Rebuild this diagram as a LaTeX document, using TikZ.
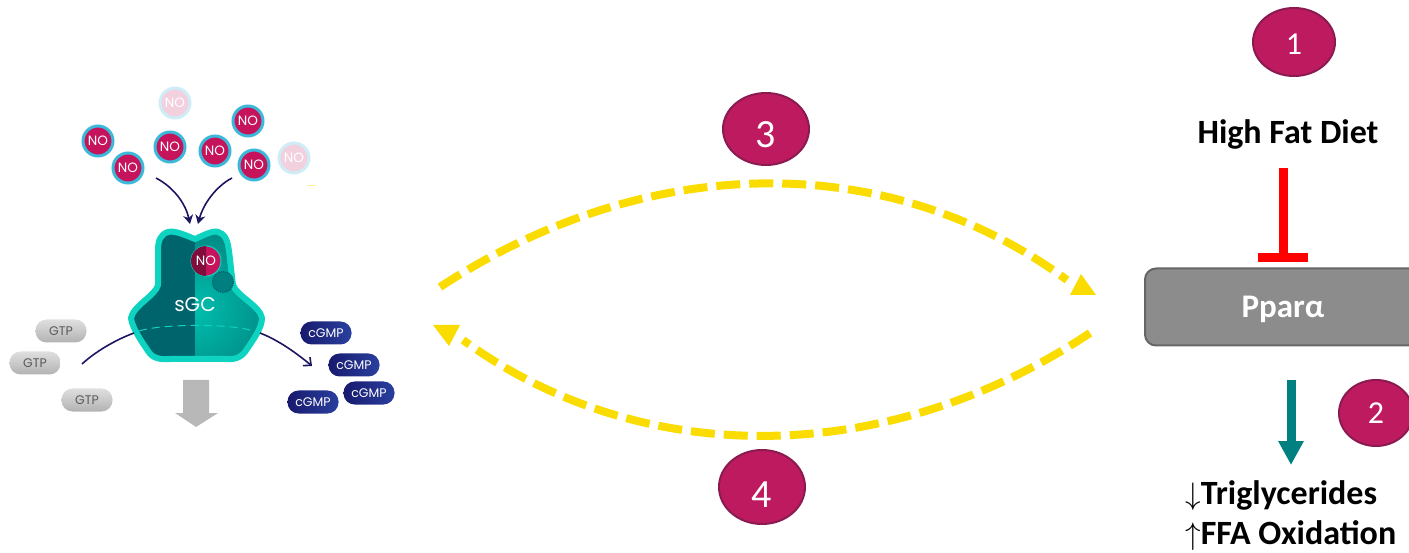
\documentclass[tikz,border=0pt]{standalone}
\usepackage{fontspec}
\setmainfont{Carlito}
\newfontfamily\labelfont{Poppins}
\usetikzlibrary{arrows.meta,shapes.geometric,shadings}
\definecolor{plum}{HTML}{BE1A5F}
\definecolor{plumedge}{HTML}{8A1A50}
\definecolor{nored}{HTML}{C5145C}
\definecolor{noring}{HTML}{3CB8DA}
\definecolor{navyline}{HTML}{1C1560}
\definecolor{sgcdark}{HTML}{00646C}
\definecolor{sgcmid}{HTML}{007F7C}
\definecolor{sgclight}{HTML}{00BFAE}
\definecolor{sgcedge}{HTML}{0ED3C1}
\definecolor{dashyellow}{HTML}{FADC00}
\definecolor{cgmpdark}{HTML}{181A6E}
\definecolor{cgmplight}{HTML}{2A409E}
\newcommand{\lowered}[2]{\raisebox{-#1pt}[0pt][0pt]{#2}}
\tikzset{
  stepoval/.style={ellipse,draw=plumedge,line width=2pt,fill=plum,text=white,inner sep=0pt,
    minimum width=82pt,minimum height=68pt},
  noball/.style={circle,draw=noring,line width=3pt,fill=nored,text=white,inner sep=0pt,
    minimum size=30pt,font=\labelfont\fontsize{13.5}{13.5}\selectfont},
  nofade/.style={noball,draw=noring!25,fill=nored!20},
  pill/.style={rounded corners=11pt,inner sep=0pt,minimum width=51pt,minimum height=23pt,
    font=\labelfont\fontsize{12.5}{12.5}\selectfont},
  gtppill/.style={pill,top color=gray!25,bottom color=gray!60,text=black!65},
  cgmppill/.style={pill,left color=cgmpdark,right color=cgmplight,text=white},
  navyarrow/.style={navyline,line width=1.6pt,-{Stealth[length=9pt,width=10pt]}},
  navyopen/.style={navyline,line width=1.6pt,-{Straight Barb[length=6pt,width=11pt]}},
  yellowdash/.style={dashyellow,line width=8pt,dash pattern=on 24pt off 9pt},
  boldtext/.style={font=\fontsize{34}{34}\selectfont\bfseries,text=black,inner sep=0pt},
  digits/.style={font=\fontsize{#1}{#1}\selectfont},
}
\begin{document}
\begin{tikzpicture}[x=1pt,y=-1pt]
  \useasboundingbox (0,0) rectangle (1409,553);
  \clip (0,0) rectangle (1409,553);
  % NO molecules above the enzyme
  \foreach \x/\y in {98/141,128/168,170/147,215/151,248/121,254/165}
    \node[noball] at (\x,\y) {NO};
  \foreach \x/\y in {175/103,294/158}
    \node[nofade] at (\x,\y) {NO};
  \draw[dashyellow!40,line width=0.7pt] (307,185.5) -- (316,185.5);
  % sGC body, two halves and outline
  \def\sgcpath{(195,239) .. controls (187,236) and (175,230) .. (168,232)
    .. controls (161,234) and (158,240) .. (158,250) -- (158,285)
    .. controls (156,295) and (133,306) .. (131,318)
    .. controls (132,328) and (142,342) .. (148,351)
    .. controls (152,358) and (160,360) .. (170,359)
    -- (225,359) .. controls (236,360) and (242,357) .. (247,349)
    .. controls (253,340) and (262,328) .. (262,318)
    .. controls (260,306) and (237,296) .. (233,285)
    .. controls (231,270) and (230,256) .. (228,245)
    .. controls (226,235) and (220,230) .. (212,232)
    .. controls (205,234) and (200,237) .. (195,239) -- cycle}
  \begin{scope}
    \clip \sgcpath;
    \fill[sgcdark] (120,220) rectangle (195,370);
    \clip (195,220) rectangle (280,370);
    \shade[inner color=sgclight,outer color=sgcmid] (100,215) rectangle (290,405);
  \end{scope}
  \draw[sgcedge,line width=6pt,line join=round] \sgcpath;
  \draw[sgcedge,line width=1pt,dashed,dash pattern=on 8pt off 5pt]
    (139,331) .. controls (160,324) and (230,323) .. (253,331);
  \node[text=white,font=\labelfont\fontsize{20}{20}\selectfont,inner sep=0pt] (sgc) at (195,305) {sGC};
  % bound NO and haem
  \node[circle,draw=sgcedge,line width=1pt,fill=nored,minimum size=30pt,inner sep=0pt] (bound) at (206,261) {};
  \fill[nored!65!black] (206,276) arc (90:270:15) -- cycle;
  \node[text=white,font=\labelfont\fontsize{13.5}{13.5}\selectfont,inner sep=0pt] at (206,261) {NO};
  \node[circle,draw=sgcdark,fill=sgcdark!70!sgclight,densely dotted,line width=1.2pt,minimum size=21pt,inner sep=0pt] (haem) at (223,282) {};
  % arrows into the enzyme
  \coordinate (nofromleft) at (156,178);
  \coordinate (nofromright) at (232,178);
  \coordinate (gtpfrom) at (82,364);
  \coordinate (cgmpto) at (312,366);
  \draw[navyarrow] (nofromleft) .. controls (175,188) and (186,205) .. (190,224);
  \draw[navyarrow] (nofromright) .. controls (215,187) and (203,205) .. (198,224);
  \draw[navyline,line width=1.6pt] (gtpfrom) .. controls (95,352) and (115,340) .. (134,333);
  \draw[navyopen] (260,333) .. controls (278,340) and (295,352) .. (cgmpto);
  % GTP and cGMP
  \foreach \x/\y/\n in {61/331/a,35/363/b,87/400/c}
    \node[gtppill] (gtp\n) at (\x,\y) {GTP};
  \foreach \x/\y/\n in {326/333/a,354/365/b,369/393/c,313/402/d}
    \node[cgmppill] (cgmp\n) at (\x,\y) {cGMP};
  % grey output arrow
  \fill[black!28] (183,380) -- (209,380) -- (209,413) -- (218,413) -- (196,427) -- (175,413) -- (183,413) -- cycle;
  % yellow feedback loop
  \coordinate (loopa) at (440,287);
  \coordinate (loopb) at (1067,280);
  \coordinate (loopc) at (1090,333);
  \coordinate (loopd) at (463,340);
  \draw[yellowdash] (loopa) .. controls (650,150) and (890,150) .. (loopb);
  \draw[yellowdash] (loopc) .. controls (885,469) and (640,469) .. (loopd);
  \fill[dashyellow] (1081,274) -- (1096,295) -- (1070,295) -- cycle;
  \fill[dashyellow] (449,346) -- (433,325) -- (460,325) -- cycle;
  % numbered ovals
  \node[stepoval,digits=32] (one) at (1294,42) {\lowered{13}{1}};
  \node[stepoval,digits=32,minimum width=74pt,minimum height=66pt] (two) at (1376,413) {\lowered{11}{2}};
  \node[stepoval,digits=40,minimum width=86pt,minimum height=72pt] (three) at (766,129) {\lowered{19}{3}};
  \node[stepoval,digits=40,minimum width=86pt,minimum height=74pt] (four) at (762,487) {\lowered{20}{4}};
  % right hand column
  \node[boldtext] (diet) at (1288,134) {High Fat Diet};
  \node[rectangle,rounded corners=11pt,draw=black!60,line width=2pt,fill=black!45,minimum width=276pt,minimum height=77pt,
    text=white,inner sep=0pt,font=\fontsize{33}{33}\selectfont\bfseries] (ppar) at (1283,307) {\lowered{11}{Pparα}};
  \node[boldtext,anchor=west] (lipids) at (1185,496) {\scalebox{1.25}{$\downarrow$}Triglycerides};
  \node[boldtext,anchor=west] (ffa) at (1185,536) {\scalebox{1.25}{$\uparrow$}FFA Oxidation};
  \coordinate (redtop) at (1283,168);
  \coordinate (tealtop) at (1291,380);
  \coordinate (tealtip) at (1291,465);
  \draw[red,line width=9pt,shorten >=5pt,-{Bar[width=50pt,length=9pt]}] (redtop) -- (redtop |- ppar.north);
  \draw[teal,line width=9pt,-{Triangle[width=24pt,length=24pt]}] (tealtop) -- (tealtip);
\end{tikzpicture}
\end{document}
